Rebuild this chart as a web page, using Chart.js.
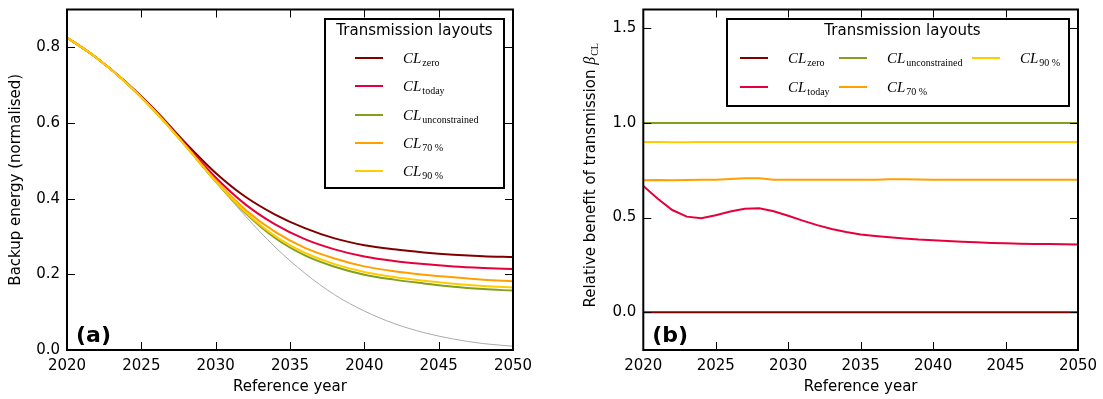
<!DOCTYPE html>
<html>
<head>
<meta charset="utf-8">
<script src="https://cdn.jsdelivr.net/npm/chart.js@4.4.1/dist/chart.umd.min.js"></script>
<style>
  body { margin: 0; background: #fff; width: 1103px; height: 399px; overflow: hidden; position: relative; }
  canvas { position: absolute; top: 0; }
  #grafA { left: 0; }
  #grafB { left: 560px; }
</style>
</head>
<body>
<canvas id="grafA" width="540" height="399"></canvas>
<canvas id="grafB" width="543" height="399"></canvas>
<script>
// ---- dados (a): energia de backup normalizada ----
const anosA = [2020, 2022, 2024, 2026, 2028, 2030, 2032, 2034, 2036, 2038, 2040, 2042, 2044, 2046, 2048, 2050];
const backupZero    = [0.826, 0.772, 0.707, 0.631, 0.546, 0.468, 0.405, 0.358, 0.322, 0.295, 0.277, 0.266, 0.258, 0.252, 0.248, 0.246];
const backupToday   = [0.826, 0.772, 0.706, 0.629, 0.542, 0.456, 0.385, 0.332, 0.293, 0.266, 0.247, 0.235, 0.227, 0.221, 0.217, 0.214];
const backupUnc     = [0.826, 0.772, 0.706, 0.627, 0.538, 0.445, 0.362, 0.296, 0.250, 0.220, 0.199, 0.186, 0.176, 0.167, 0.161, 0.157];
const backup70      = [0.826, 0.772, 0.706, 0.627, 0.539, 0.448, 0.371, 0.312, 0.270, 0.242, 0.221, 0.208, 0.199, 0.192, 0.186, 0.182];
const backup90      = [0.826, 0.772, 0.706, 0.627, 0.538, 0.446, 0.365, 0.301, 0.257, 0.227, 0.206, 0.193, 0.183, 0.175, 0.169, 0.165];
const backupSemRede = [0.826, 0.772, 0.706, 0.627, 0.538, 0.444, 0.354, 0.272, 0.203, 0.146, 0.103, 0.070, 0.046, 0.029, 0.017, 0.010];

// ---- dados (b): beneficio relativo da transmissao ----
const anosB = [2020, 2021, 2022, 2023, 2024, 2025, 2026, 2027, 2028, 2029, 2030, 2031, 2032, 2033, 2034, 2035,
               2036, 2037, 2038, 2039, 2040, 2041, 2042, 2043, 2044, 2045, 2046, 2047, 2048, 2049, 2050];
const betaZero  = [0, 0, 0, 0, 0, 0, 0, 0, 0, 0, 0, 0, 0, 0, 0, 0, 0, 0, 0, 0, 0, 0, 0, 0, 0, 0, 0, 0, 0, 0, 0];
const betaToday = [0.667, 0.600, 0.540, 0.505, 0.497, 0.512, 0.532, 0.547, 0.549, 0.533, 0.510, 0.484, 0.460, 0.440, 0.424, 0.411,
                   0.403, 0.396, 0.390, 0.384, 0.380, 0.376, 0.372, 0.369, 0.366, 0.364, 0.362, 0.361, 0.360, 0.359, 0.358];
const betaUnc   = [1, 1, 1, 1, 1, 1, 1, 1, 1, 1, 1, 1, 1, 1, 1, 1, 1, 1, 1, 1, 1, 1, 1, 1, 1, 1, 1, 1, 1, 1, 1];
const beta70    = [0.697, 0.699, 0.698, 0.699, 0.700, 0.700, 0.704, 0.708, 0.708, 0.700, 0.700, 0.700, 0.700, 0.700, 0.700, 0.700,
                   0.700, 0.702, 0.703, 0.701, 0.700, 0.700, 0.700, 0.700, 0.700, 0.700, 0.700, 0.700, 0.700, 0.700, 0.700];
const beta90    = [0.900, 0.899, 0.898, 0.898, 0.899, 0.899, 0.899, 0.900, 0.900, 0.900, 0.900, 0.900, 0.900, 0.899, 0.900, 0.900,
                   0.900, 0.900, 0.900, 0.900, 0.900, 0.900, 0.900, 0.900, 0.900, 0.900, 0.900, 0.900, 0.900, 0.900, 0.900];

const sufixos = ['zero', 'today', 'unconstrained', '70 %', '90 %'];
const cores = ['#800000', '#e6003b', '#82a01c', '#ffa000', '#ffcc00'];

const fonte = { family: 'DejaVu Sans', size: 15 };

function pares(anos, vals) {
  return anos.map((a, i) => ({ x: a, y: vals[i] }));
}

function rotuloCL(ctx, x, y, sub) {
  ctx.font = 'italic 15px "Liberation Serif"';
  ctx.fillText('CL', x, y);
  const w = ctx.measureText('CL').width;
  ctx.font = '10px "Liberation Serif"';
  ctx.fillText(sub, x + w + 1, y + 3);
}

// moldura com ticks para dentro (estilo matplotlib) + letra do painel
const moldura = {
  id: 'moldura',
  afterDatasetsDraw(chart, args, opts) {
    const { ctx, chartArea: a, scales } = chart;
    ctx.save();
    ctx.strokeStyle = '#000';
    ctx.lineWidth = 1;
    ctx.beginPath();
    scales.x.ticks.forEach(t => {
      const px = Math.round(scales.x.getPixelForValue(t.value)) + 0.5;
      ctx.moveTo(px, a.bottom); ctx.lineTo(px, a.bottom - 8);
      ctx.moveTo(px, a.top); ctx.lineTo(px, a.top + 8);
    });
    scales.y.ticks.forEach(t => {
      const py = Math.round(scales.y.getPixelForValue(t.value)) + 0.5;
      ctx.moveTo(a.left, py); ctx.lineTo(a.left + 8, py);
      ctx.moveTo(a.right, py); ctx.lineTo(a.right - 8, py);
    });
    ctx.stroke();
    ctx.lineWidth = 2;
    ctx.strokeRect(a.left, a.top, a.width, a.height);
    ctx.fillStyle = '#000';
    ctx.font = 'bold 22px "DejaVu Sans"';
    ctx.textBaseline = 'alphabetic';
    ctx.fillText(opts.letra, a.left + 9, a.bottom - 8);
    ctx.restore();
  }
};

// legenda desenhada a mao (rotulos com subscrito)
const caixaLegenda = {
  id: 'caixaLegenda',
  afterDraw(chart, args, opts) {
    const ctx = chart.ctx;
    const b = opts.caixa;
    ctx.save();
    ctx.fillStyle = '#fff';
    ctx.fillRect(b.x, b.y, b.w, b.h);
    ctx.strokeStyle = '#000';
    ctx.lineWidth = 2;
    ctx.strokeRect(b.x, b.y, b.w, b.h);
    ctx.fillStyle = '#000';
    ctx.font = '15px "DejaVu Sans"';
    ctx.textAlign = 'center';
    ctx.textBaseline = 'alphabetic';
    ctx.fillText('Transmission layouts', opts.tituloX, opts.tituloY);
    ctx.textAlign = 'left';
    opts.itens.forEach(it => {
      ctx.strokeStyle = cores[it.i];
      ctx.lineWidth = 2;
      ctx.beginPath();
      ctx.moveTo(it.x, it.y); ctx.lineTo(it.x + 28, it.y);
      ctx.stroke();
      ctx.fillStyle = '#000';
      rotuloCL(ctx, it.x + 48, it.y + 5, sufixos[it.i]);
    });
    ctx.restore();
  }
};

// titulo do eixo y do painel (b), com beta_CL
const tituloBeta = {
  id: 'tituloBeta',
  afterDraw(chart) {
    const { ctx, chartArea: a } = chart;
    const p1 = 'Relative benefit of transmission ';
    ctx.save();
    ctx.font = '15px "DejaVu Sans"';
    const w1 = ctx.measureText(p1).width;
    ctx.font = 'italic 16px "Liberation Serif"';
    const w2 = ctx.measureText('\u03b2').width;
    ctx.font = '10px "Liberation Serif"';
    const w3 = ctx.measureText('CL').width;
    const total = w1 + w2 + w3;
    ctx.translate(35, (a.top + a.bottom) / 2 - 4);
    ctx.rotate(-Math.PI / 2);
    ctx.fillStyle = '#000';
    ctx.textBaseline = 'alphabetic';
    let x0 = -total / 2;
    ctx.font = '15px "DejaVu Sans"';
    ctx.fillText(p1, x0, 0);
    ctx.font = 'italic 16px "Liberation Serif"';
    ctx.fillText('\u03b2', x0 + w1, 0);
    ctx.font = '10px "Liberation Serif"';
    ctx.fillText('CL', x0 + w1 + w2 + 1, 3);
    ctx.restore();
  }
};

function eixoX(titulo) {
  return {
    type: 'linear', min: 2020, max: 2050,
    ticks: { stepSize: 5, padding: 7, color: '#000', font: fonte, maxRotation: 0, autoSkip: false,
             includeBounds: false, callback: v => String(v) },
    grid: { display: false, drawTicks: false },
    border: { display: false },
    title: { display: true, text: titulo, color: '#000', font: fonte, padding: { top: 0, bottom: 3 } },
    afterFit: s => { s.height = 49; s.paddingLeft = 0; s.paddingRight = 0; }
  };
}

function eixoY(min, max, passo, largura, titulo) {
  return {
    min: min, max: max,
    ticks: { stepSize: passo, padding: 7, color: '#000', font: fonte, includeBounds: false,
             callback: v => v.toFixed(1) },
    grid: { display: false, drawTicks: false },
    border: { display: false },
    title: titulo ? { display: true, text: titulo, color: '#000', font: fonte, padding: { top: 7.5, bottom: 0 } }
                  : { display: false },
    afterFit: s => { s.width = largura; s.paddingTop = 0; s.paddingBottom = 0; }
  };
}

function linha(vals, anos, i, extra) {
  return Object.assign({
    label: 'CL_' + sufixos[i],
    data: pares(anos, vals),
    borderColor: cores[i],
    borderWidth: 2,
    pointRadius: 0,
    fill: false,
    order: 5 - i
  }, extra || {});
}

// ---- grafico (a) ----
const suave = { cubicInterpolationMode: 'monotone' };
new Chart(document.getElementById('grafA').getContext('2d'), {
  type: 'line',
  data: {
    datasets: [
      { label: 'sem rede', data: pares(anosA, backupSemRede), borderColor: '#aaaaaa', borderWidth: 1,
        pointRadius: 0, fill: false, order: 10, cubicInterpolationMode: 'monotone' },
      linha(backupZero, anosA, 0, suave),
      linha(backupToday, anosA, 1, suave),
      linha(backupUnc, anosA, 2, suave),
      linha(backup70, anosA, 3, suave),
      linha(backup90, anosA, 4, suave)
    ]
  },
  options: {
    responsive: false,
    animation: false,
    layout: { padding: { top: 9.5, right: 27, bottom: 0, left: 0 } },
    scales: {
      x: eixoX('Reference year'),
      y: eixoY(0, 0.9, 0.2, 67, 'Backup energy (normalised)')
    },
    plugins: {
      legend: { display: false },
      tooltip: { enabled: false },
      moldura: { letra: '(a)' },
      caixaLegenda: {
        caixa: { x: 325, y: 19, w: 179, h: 169 },
        tituloX: 414.5, tituloY: 35,
        itens: [
          { i: 0, x: 355, y: 58 },
          { i: 1, x: 355, y: 86 },
          { i: 2, x: 355, y: 115 },
          { i: 3, x: 355, y: 143 },
          { i: 4, x: 355, y: 171 }
        ]
      }
    }
  },
  plugins: [moldura, caixaLegenda]
});

// ---- grafico (b) ----
new Chart(document.getElementById('grafB').getContext('2d'), {
  type: 'line',
  data: {
    datasets: [
      linha(betaZero, anosB, 0),
      linha(betaToday, anosB, 1),
      linha(betaUnc, anosB, 2),
      linha(beta70, anosB, 3),
      linha(beta90, anosB, 4)
    ]
  },
  options: {
    responsive: false,
    animation: false,
    layout: { padding: { top: 9.5, right: 25, bottom: 0, left: 0 } },
    scales: {
      x: eixoX('Reference year'),
      y: eixoY(-0.2, 1.6, 0.5, 83.3, null)
    },
    plugins: {
      legend: { display: false },
      tooltip: { enabled: false },
      moldura: { letra: '(b)' },
      caixaLegenda: {
        caixa: { x: 167, y: 19, w: 342, h: 87 },
        tituloX: 342.5, tituloY: 35,
        itens: [
          { i: 0, x: 180, y: 58 },
          { i: 1, x: 180, y: 87 },
          { i: 2, x: 279, y: 58 },
          { i: 3, x: 279, y: 87 },
          { i: 4, x: 412, y: 58 }
        ]
      }
    }
  },
  plugins: [moldura, caixaLegenda, tituloBeta]
});
</script>
</body>
</html>
